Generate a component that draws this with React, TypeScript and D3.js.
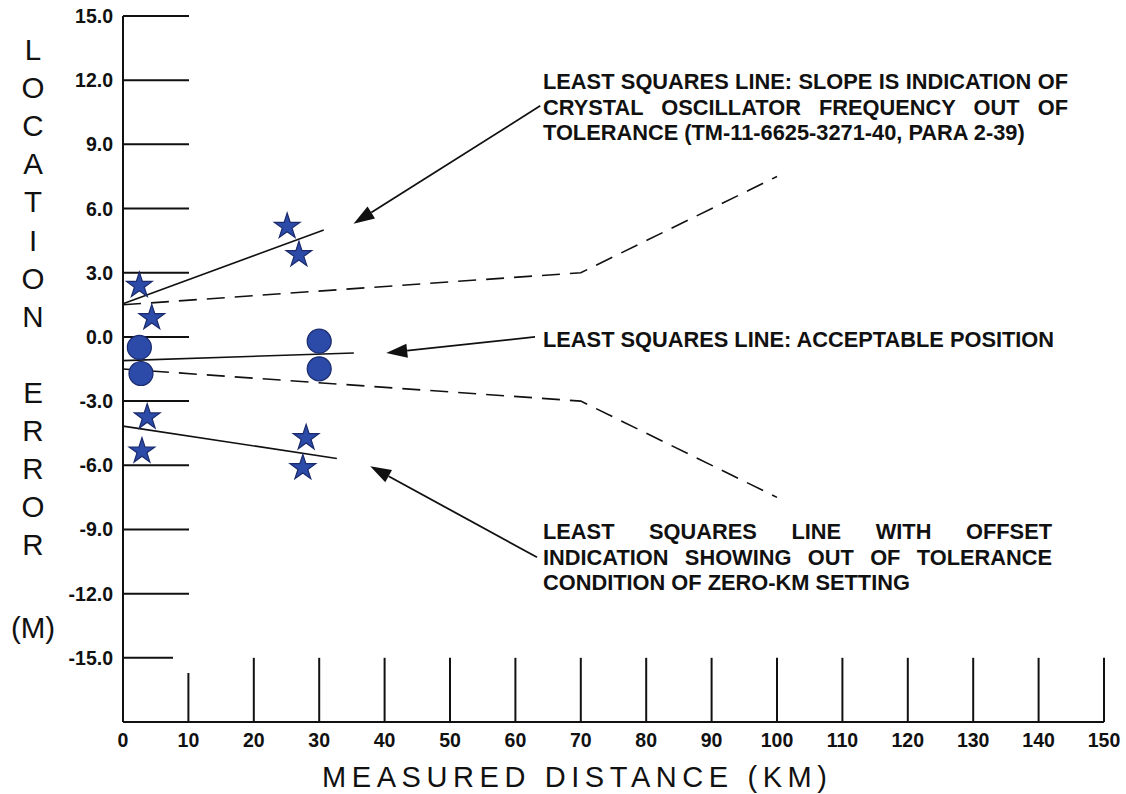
import React, { useLayoutEffect, useRef } from "react";
import * as d3 from "d3";

// measured points, km vs location error (m)
const starPoints = [
  { km: 25.1, err: 5.16 },
  { km: 26.9, err: 3.84 },
  { km: 2.5, err: 2.4 },
  { km: 4.4, err: 0.89 },
  { km: 3.7, err: -3.75 },
  { km: 2.9, err: -5.34 },
  { km: 28.0, err: -4.72 },
  { km: 27.5, err: -6.12 },
];
const circlePoints = [
  { km: 2.5, err: -0.49 },
  { km: 2.75, err: -1.71 },
  { km: 30.0, err: -0.2 },
  { km: 30.0, err: -1.49 },
];

// least squares lines
const lsqLines = [
  [{ km: 0, err: 1.55 }, { km: 30.7, err: 5.0 }],
  [{ km: 0, err: -1.11 }, { km: 35.3, err: -0.75 }],
  [{ km: 0, err: -4.17 }, { km: 32.7, err: -5.68 }],
];
// tolerance limits (dashed)
const upperLimit = [{ km: 0, err: 1.5 }, { km: 70, err: 3.0 }, { km: 100, err: 7.5 }];
const lowerLimit = [{ km: 0, err: -1.5 }, { km: 70, err: -3.0 }, { km: 100, err: -7.5 }];

const yTicks = [15, 12, 9, 6, 3, 0, -3, -6, -9, -12, -15];
const xTicks = [0, 10, 20, 30, 40, 50, 60, 70, 80, 90, 100, 110, 120, 130, 140, 150];
const yTitleLetters = ["L", "O", "C", "A", "T", "I", "O", "N", "", "E", "R", "R", "O", "R"];

const notes = [
  {
    tail: { km: 63.8, err: 10.8 },
    tip: { km: 35.25, err: 5.29 },
    lines: [
      "LEAST SQUARES LINE: SLOPE IS INDICATION OF",
      "CRYSTAL OSCILLATOR FREQUENCY OUT OF",
      "TOLERANCE (TM-11-6625-3271-40, PARA 2-39)",
    ],
    top: 89,
    justify: 525,
  },
  {
    tail: { km: 63.0, err: 0.0 },
    tip: { km: 40.25, err: -0.75 },
    lines: ["LEAST SQUARES LINE: ACCEPTABLE POSITION"],
    top: 347,
    justify: 0,
  },
  {
    tail: { km: 63.3, err: -10.3 },
    tip: { km: 37.8, err: -6.04 },
    lines: [
      "LEAST SQUARES LINE WITH OFFSET",
      "INDICATION SHOWING OUT OF TOLERANCE",
      "CONDITION OF ZERO-KM SETTING",
    ],
    top: 539,
    justify: 509,
  },
];

const W = 1126;
const H = 794;
const FILL = "#2c4aa7";
const EDGE = "#1a2a6c";
const INK = "#111";

// one line of note text, stretched between the words when width is given
function NoteLine(props: { x: number; y: number; text: string; width: number }) {
  const ref = useRef<SVGTextElement>(null);
  useLayoutEffect(() => {
    const el = ref.current;
    if (!el || props.width <= 0) return;
    el.setAttribute("word-spacing", "0");
    const natural = el.getComputedTextLength();
    const gaps = props.text.split(" ").length - 1;
    if (gaps > 0) {
      el.setAttribute("word-spacing", String((props.width - natural) / gaps));
    }
  }, [props.text, props.width]);
  return (
    <text ref={ref} x={props.x} y={props.y} fontSize={21.8} fontWeight="bold" fill={INK}>
      {props.text}
    </text>
  );
}

export default function App() {
  const x = d3.scaleLinear().domain([0, 150]).range([123, 1104]);
  const y = d3.scaleLinear().domain([-18, 15]).range([722, 16]);

  const line = d3
    .line<{ km: number; err: number }>()
    .x((d) => x(d.km))
    .y((d) => y(d.err));

  const star = d3.symbol().type(d3.symbolStar).size(205)();

  const x0 = x(0);
  const yBase = y(-18);

  return (
    <svg
      width={W}
      height={H}
      style={{ position: "absolute", left: 0, top: 0, background: "#fff" }}
      fontFamily="'Liberation Sans', Arial, sans-serif"
    >
      {/* y axis */}
      <line x1={x0} x2={x0} y1={y(15)} y2={yBase} stroke={INK} strokeWidth={2} />
      {yTicks.map((t) => (
        <g key={"y" + t}>
          <line
            x1={x0}
            x2={t == -15 ? x0 + 50 : x0 + 66}
            y1={y(t)}
            y2={y(t)}
            stroke={INK}
            strokeWidth={2}
          />
          <text
            x={113}
            y={y(t) + 7}
            textAnchor="end"
            fontSize={19.5}
            fontWeight="bold"
            fill={INK}
          >
            {t.toFixed(1)}
          </text>
        </g>
      ))}

      {/* x axis */}
      <line x1={x0} x2={x(150)} y1={yBase} y2={yBase} stroke={INK} strokeWidth={2} />
      {xTicks.map((t) => (
        <g key={"x" + t}>
          {t > 0 && (
            <line
              x1={x(t)}
              x2={x(t)}
              y1={yBase}
              y2={t == 10 ? yBase - 49 : y(-15)}
              stroke={INK}
              strokeWidth={2}
            />
          )}
          <text
            x={x(t)}
            y={747}
            textAnchor="middle"
            fontSize={19.5}
            fontWeight="bold"
            fill={INK}
          >
            {t}
          </text>
        </g>
      ))}

      {/* axis titles */}
      {yTitleLetters.map((c, i) => (
        <text key={"t" + i} x={33} y={60 + i * 38.1} textAnchor="middle" fontSize={29.5} fill={INK}>
          {c}
        </text>
      ))}
      <text x={33} y={638} textAnchor="middle" fontSize={29.5} fill={INK}>
        (M)
      </text>
      <text
        x={322}
        y={787}
        fontSize={29}
        fill={INK}
        textLength={505}
        lengthAdjust="spacing"
      >
        MEASURED DISTANCE (KM)
      </text>

      {/* tolerance limits */}
      {[upperLimit, lowerLimit].map((d, i) => (
        <path
          key={"lim" + i}
          d={line(d) || ""}
          fill="none"
          stroke={INK}
          strokeWidth={1.6}
          strokeDasharray="18,10"
        />
      ))}

      {/* least squares lines */}
      {lsqLines.map((d, i) => (
        <path key={"lsq" + i} d={line(d) || ""} fill="none" stroke={INK} strokeWidth={1.6} />
      ))}

      {/* points */}
      {circlePoints.map((p, i) => (
        <circle
          key={"c" + i}
          cx={x(p.km)}
          cy={y(p.err)}
          r={12}
          fill={FILL}
          stroke={EDGE}
          strokeWidth={1.2}
        />
      ))}
      {starPoints.map((p, i) => (
        <path
          key={"s" + i}
          d={star || ""}
          transform={`translate(${x(p.km)},${y(p.err)})`}
          fill={FILL}
          stroke={EDGE}
          strokeWidth={1.2}
        />
      ))}

      {/* annotations */}
      {notes.map((n, i) => {
        const tx = x(n.tip.km);
        const ty = y(n.tip.err);
        const sx = x(n.tail.km);
        const sy = y(n.tail.err);
        const ang = Math.atan2(ty - sy, tx - sx);
        const len = 21;
        const hw = 7;
        const bx = tx - len * Math.cos(ang);
        const by = ty - len * Math.sin(ang);
        const head = `M${tx},${ty} L${bx - hw * Math.sin(ang)},${by + hw * Math.cos(ang)} L${
          bx + hw * Math.sin(ang)
        },${by - hw * Math.cos(ang)} Z`;
        return (
          <g key={"n" + i}>
            <line x1={sx} y1={sy} x2={bx} y2={by} stroke={INK} strokeWidth={1.8} />
            <path d={head} fill={INK} />
            {n.lines.map((s, j) => (
              <NoteLine
                key={j}
                x={543}
                y={n.top + j * 25.5}
                text={s}
                width={n.justify > 0 && j < n.lines.length - 1 ? n.justify : 0}
              />
            ))}
          </g>
        );
      })}
    </svg>
  );
}
